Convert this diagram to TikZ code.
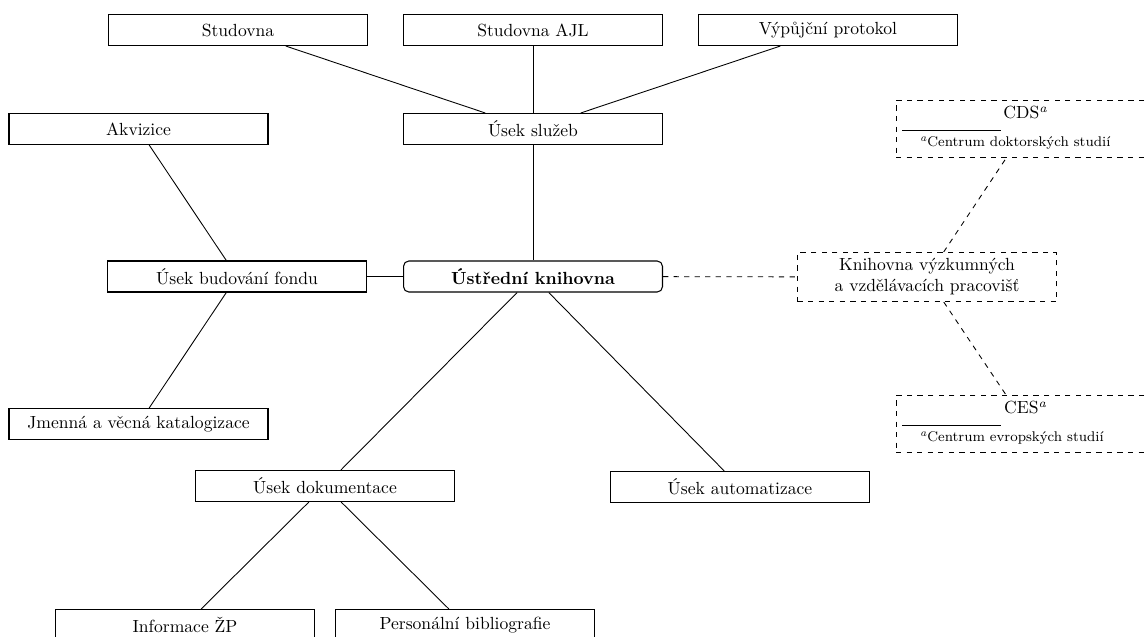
\documentclass[tikz,border=0pt]{standalone}
\usepackage{fontspec}
\begin{document}
\begin{tikzpicture}[
    x=0.02cm, y=-0.02cm,
    box/.style={rectangle, draw, line width=0.6pt, minimum width=5.18cm, minimum height=0.62cm, align=center},
    hub/.style={box, rounded corners=3pt, font=\bfseries},
    extbox/.style={rectangle, draw, dashed, line width=0.6pt, minimum width=5.18cm},
    link/.style={line width=0.5pt},
    extlink/.style={dashed, line width=0.5pt}
]
\useasboundingbox (0,0) rectangle (1148,636);
\clip (0,0) rectangle (1148,636);

% Top: services
\node[box] (studovna) at (238,30) {Studovna};
\node[box] (studAJL) at (533,30) {Studovna AJL};
\node[box] (protokol) at (828,30) {Výpůjční protokol};
\node[box] (akvizice) at (138.5,129) {Akvizice};
\node[box] (usekSluzeb) at (533,129) {Úsek služeb};

% Middle: central library
\node[box] (budovani) at (237,276.5) {Úsek budování fondu};
\node[hub] (ustredni) at (533,276.5) {Ústřední knihovna};
\node[box] (jmenna) at (138.5,424) {Jmenná a věcná katalogizace};

% Right: external workplaces
\node[extbox, align=center, minimum height=0.98cm] (knihovnaVyzk) at (927,277) {Knihovna výzkumných\\a vzdělávacích pracovišť};
\node[extbox] (cds) at (1025.5,129) {\begin{minipage}{4.94cm}\centering CDS\footnote{Centrum doktorských studií}\end{minipage}};
\node[extbox] (ces) at (1025.5,424) {\begin{minipage}{4.94cm}\centering CES\footnote{Centrum evropských studií}\end{minipage}};

% Bottom: documentation, automation
\node[box] (dokumentace) at (325,486) {Úsek dokumentace};
\node[box] (automatizace) at (740,487) {Úsek automatizace};
\node[box] (informace) at (185,625) {Informace ŽP};
\node[box] (personalni) at (465,625) {Personální bibliografie};

% Lines
\draw[link] (studovna) -- (usekSluzeb);
\draw[link] (studAJL) -- (usekSluzeb);
\draw[link] (protokol) -- (usekSluzeb);
\draw[link] (usekSluzeb) -- (ustredni);
\draw[link] (akvizice) -- (budovani);
\draw[link] (budovani) -- (jmenna);
\draw[link] (budovani) -- (ustredni);
\draw[link] (ustredni) -- (dokumentace);
\draw[link] (ustredni) -- (automatizace);
\draw[link] (dokumentace) -- (informace);
\draw[link] (dokumentace) -- (personalni);
\draw[extlink] (ustredni) -- (knihovnaVyzk);
\draw[extlink] (knihovnaVyzk) -- (cds);
\draw[extlink] (knihovnaVyzk) -- (ces);

\end{tikzpicture}
\end{document}
